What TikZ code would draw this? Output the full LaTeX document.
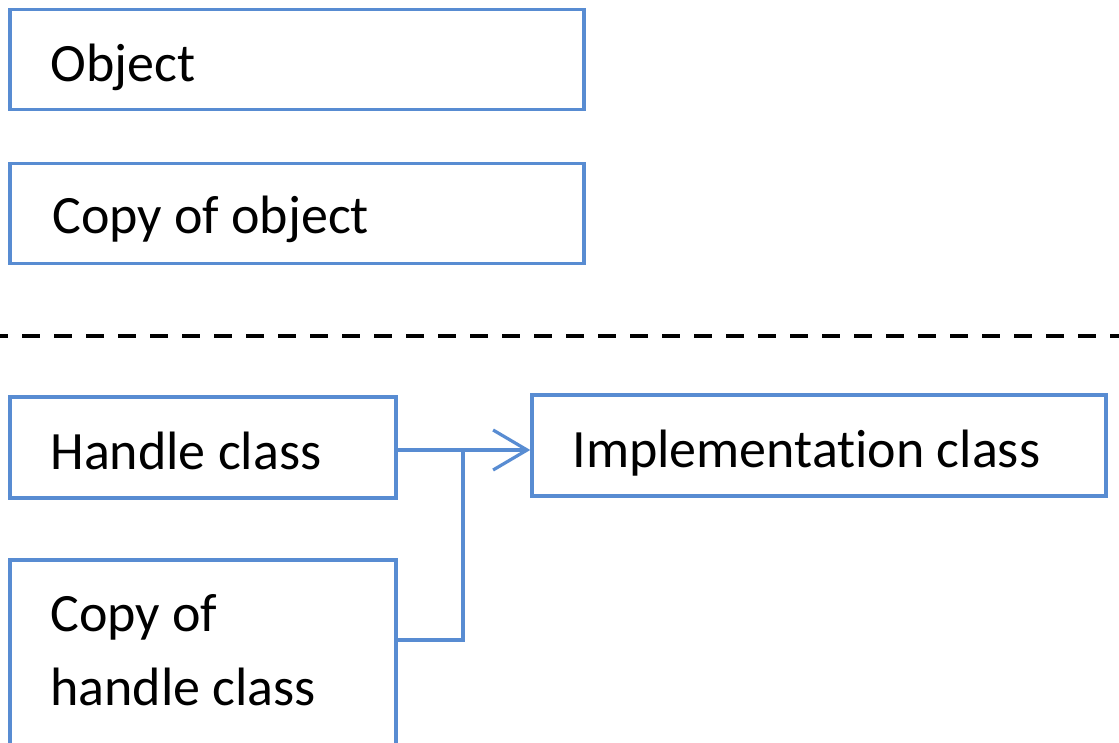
\documentclass[tikz,border=0pt]{standalone}
\usepackage{fontspec}
\setmainfont{Carlito}[Ligatures=NoCommon]
\usetikzlibrary{arrows.meta}
\definecolor{boxblue}{RGB}{88,140,210}
\tikzset{
  x=0.5pt, y=-0.5pt,
  box/.style={draw=boxblue, line width=1.75pt, fill=white, rectangle, inner sep=0pt},
  lbl/.style={anchor=base west, inner sep=0pt, font=\fontsize{27pt}{32pt}\selectfont},
  link/.style={draw=boxblue, line width=1.6pt},
}
\begin{document}
\begin{tikzpicture}
\useasboundingbox (0,0) rectangle (1119,743);
\clip (0,0) rectangle (1119,743);
\fill[white] (0,0) rectangle (1119,743);

% value semantics: object and its copy
\node[box, minimum width=287pt, minimum height=50pt] (obj) at (297,59.5) {};
\node[lbl] (objtxt) at (50,82) {Object};
\node[box, minimum width=287pt, minimum height=50pt] (objcopy) at (297,213.5) {};
\node[lbl] (objcopytxt) at (52,234) {Copy of object};

% separator
\draw[black, line width=2pt, dash pattern=on 9pt off 7pt] (-10,336) -- (1130,336);

% handle/body semantics
\node[box, minimum width=193pt, minimum height=50.5pt] (handle) at (203,447.5) {};
\node[lbl] (handletxt) at (50,469) {Handle class};
\node[box, minimum width=287pt, minimum height=50.5pt] (impl) at (819,445.5) {};
\node[lbl] (impltxt) at (572,467) {Implementation class};
\node[box, minimum width=193pt, minimum height=110pt, anchor=north] (hcopy) at (203,558) {};
\node[lbl] (hcopytxt1) at (50,631) {Copy of};
\node[lbl] (hcopytxt2) at (50,705) {handle class};

% both handles share one implementation
\coordinate (join) at (463,450);
\draw[link, -{Straight Barb[length=17pt, width=20pt, line width=1.6pt]}]
  (handle.east |- join) -- (impl.west |- join);
\draw[link] (join) -- (join |- 0,640) -- (hcopy.east |- 0,640);
\end{tikzpicture}
\end{document}
